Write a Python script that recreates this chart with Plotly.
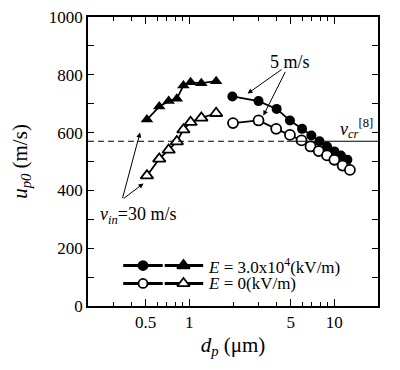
import numpy as np
import plotly.graph_objects as go

# ---- data ----
d_small = [0.51, 0.62, 0.72, 0.82, 0.91, 1.02, 1.21, 1.53]
u_small_E = [645, 690, 709, 717, 763, 774, 771, 778]
u_small_0 = [451, 509, 540, 569, 610, 636, 651, 667]

d_large_E = [1.98, 3.0, 4.0, 4.94, 5.99, 6.94, 7.9, 8.9, 10.0, 11.1, 12.3]
u_large_E = [725, 709, 682, 642, 613, 590, 570, 552, 535, 521, 506]
d_large_0 = [2.0, 3.0, 3.97, 4.94, 5.94, 6.85, 7.8, 8.9, 10.0, 11.4, 12.8]
u_large_0 = [633, 642, 613, 592, 573, 552, 536, 521, 506, 486, 471]

v_cr = 570
v_cr_dash_end = 4.7

x_major = [0.5, 1, 5, 10]
x_minor = [0.3, 0.4, 0.6, 0.7, 0.8, 0.9, 2, 3, 4, 6, 7, 8, 9]
y_major = [0, 200, 400, 600, 800, 1000]

FONT = "Liberation Serif, Times New Roman, Times, serif"
L = np.log10

fig = go.Figure()

line = dict(color="black", width=1.8)
fig.add_trace(go.Scatter(x=d_small, y=u_small_E, mode="lines+markers", line=line,
                         marker=dict(symbol="triangle-up", size=11, color="black")))
fig.add_trace(go.Scatter(x=d_small, y=u_small_0, mode="lines+markers", line=line,
                         marker=dict(symbol="triangle-up", size=11, color="white",
                                     line=dict(color="black", width=1.8))))
fig.add_trace(go.Scatter(x=d_large_E, y=u_large_E, mode="lines+markers", line=line,
                         marker=dict(symbol="circle", size=10, color="black")))
fig.add_trace(go.Scatter(x=d_large_0, y=u_large_0, mode="lines+markers", line=line,
                         marker=dict(symbol="circle", size=10, color="white",
                                     line=dict(color="black", width=1.8))))

# critical velocity line
fig.add_trace(go.Scatter(x=[0.2, v_cr_dash_end], y=[v_cr, v_cr], mode="lines",
                         line=dict(color="black", width=1.2, dash="6px,4px")))
fig.add_trace(go.Scatter(x=[v_cr_dash_end, 20], y=[v_cr, v_cr], mode="lines",
                         line=dict(color="black", width=1.2)))

# ---- legend drawn manually (layout positions) ----
leg_rows = [140, 78]
leg_seg1 = (0.35, 0.655, 0.479)
leg_seg2 = (0.676, 1.245, 0.911)
leg_text_x = 1.3
leg_fill = ["black", "white"]
leg_labels = ["<i>E</i> = 3.0x10<sup>4</sup>(kV/m)", "<i>E</i> = 0(kV/m)"]
for yy, fc, lab in zip(leg_rows, leg_fill, leg_labels):
    for (xa, xb, xm), sym, sz in [(leg_seg1, "circle", 9), (leg_seg2, "triangle-up", 11)]:
        fig.add_trace(go.Scatter(x=[xa, xb], y=[yy, yy], mode="lines",
                                 line=dict(color="black", width=3)))
        fig.add_trace(go.Scatter(x=[xm], y=[yy], mode="markers",
                                 marker=dict(symbol=sym, size=sz, color=fc,
                                             line=dict(color="black", width=1.8))))
    fig.add_annotation(x=L(leg_text_x), y=yy, text=lab, showarrow=False, xanchor="left",
                       yanchor="middle", font=dict(family=FONT, size=17, color="black"))

# ---- text annotations with arrows ----
fig.add_annotation(x=L(4.94), y=846, text="5 m/s", showarrow=False,
                   font=dict(family=FONT, size=18, color="black"))
for hx, hy, tx, ty in [(2.52, 735, 4.43, 822), (3.24, 659, 4.64, 815),
                       (0.457, 600, 0.344, 368), (0.483, 424, 0.344, 368)]:
    fig.add_annotation(x=L(hx), y=hy, ax=L(tx), ay=ty, axref="x", ayref="y",
                       xref="x", yref="y", text="", showarrow=True, arrowhead=2,
                       arrowsize=1, arrowwidth=1, arrowcolor="black")
fig.add_annotation(x=L(0.443), y=313,
                   text="<i>v</i><sub><i>in</i></sub>=30 m/s", showarrow=False,
                   font=dict(family=FONT, size=18, color="black"))
fig.add_annotation(x=L(14.2), y=614,
                   text="<i>v</i><sub><i>cr</i></sub><sup>[8]</sup>", showarrow=False,
                   font=dict(family=FONT, size=18, color="black"))

axis_common = dict(showline=True, linecolor="black", linewidth=1.5, mirror="ticks",
                   ticks="inside", tickcolor="black", tickwidth=1, showgrid=False,
                   zeroline=False, automargin=False, ticklabeloverflow="allow",
                   tickfont=dict(family=FONT, size=17, color="black"))

fig.update_xaxes(type="log", range=[L(0.2), L(20)], tickmode="array",
                 tickvals=x_major, ticktext=[str(v) for v in x_major], ticklen=7,
                 minor=dict(tickmode="array", tickvals=x_minor, ticks="inside",
                            ticklen=4, tickcolor="black", showgrid=False),
                 title=dict(text="<i>d</i><sub><i>p</i></sub> (μm)",
                            font=dict(family=FONT, size=21, color="black"), standoff=6),
                 **axis_common)
fig.update_yaxes(range=[0, 1000], tickmode="array", tickvals=y_major, ticklen=6,
                 minor=dict(dtick=100, ticks="inside", ticklen=6, tickcolor="black",
                            showgrid=False),
                 title=dict(text="<i>u</i><sub><i>p0</i></sub> (m/s)",
                            font=dict(family=FONT, size=21, color="black"), standoff=16),
                 **axis_common)

# page body has an 8px margin, so the figure is sized/offset to compensate
fig.update_layout(width=392, height=362, showlegend=False,
                  margin=dict(l=80, r=22, t=9, b=64),
                  plot_bgcolor="white", paper_bgcolor="white",
                  font=dict(family=FONT, color="black"))

fig.write_html("out.html")
